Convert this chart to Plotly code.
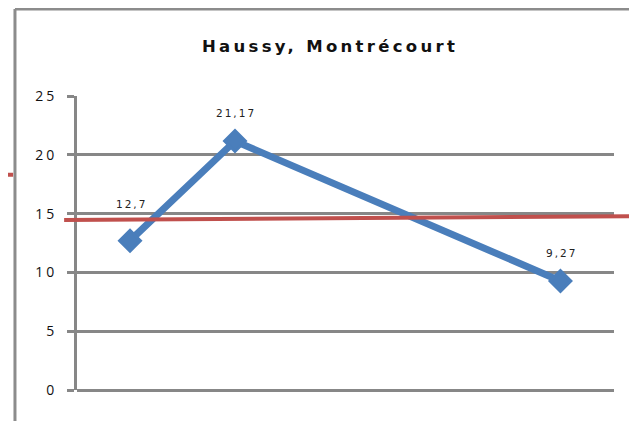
import plotly.graph_objects as go

# ---- data ----
title_text = "Haussy, Montrécourt"
x_pos = [1, 2, 5.1]
values = [12.7, 21.17, 9.27]
labels = [f"{v:g}".replace(".", ",") for v in values]
y_ticks = [0, 5, 10, 15, 20, 25]
ref_level = [14.45, 14.79]      # hand-drawn red reference line (start, end)
stray_level = 18.3              # small red fragment at left edge

BLUE = "#4a7ebb"
RED = "#c0504d"
GRID = "#878787"

fig = go.Figure()
fig.add_trace(go.Scatter(
    x=x_pos, y=values, mode="lines+markers",
    line=dict(color=BLUE, width=7),
    marker=dict(symbol="diamond", size=16, color=BLUE, line=dict(color=BLUE, width=3)),
    hoverinfo="skip", showlegend=False,
))

label_shift = [37, 28, 28]
for xv, yv, t, s in zip(x_pos, values, labels, label_shift):
    fig.add_annotation(x=xv, y=yv, text=f'<span style="letter-spacing:2px">{t}</span>',
                       showarrow=False, yshift=s, xshift=1,
                       font=dict(family="DejaVu Sans", size=10.5, color="#222"))

shapes = [
    # outer chart frame (left + top)
    dict(type="line", xref="paper", yref="paper", x0=-0.1155, x1=-0.1155, y0=-0.3, y1=1.296,
         line=dict(color="#8c8c8c", width=3)),
    dict(type="line", xref="paper", yref="paper", x0=-0.1155, x1=1.3, y0=1.296, y1=1.296,
         line=dict(color="#8c8c8c", width=3)),
    # red reference line
    dict(type="line", xref="paper", yref="y", x0=-0.024, x1=1.06, y0=ref_level[0], y1=ref_level[1],
         line=dict(color=RED, width=4), layer="above"),
    dict(type="line", xref="paper", yref="y", x0=-0.2, x1=-0.119, y0=stray_level, y1=stray_level,
         line=dict(color=RED, width=4), layer="above"),
]

fig.update_layout(
    width=629, height=413,
    margin=dict(l=69, r=23, t=88, b=31),
    paper_bgcolor="white", plot_bgcolor="white",
    shapes=shapes,
    annotations=list(fig.layout.annotations) + [dict(
        text=f'<span style="letter-spacing:3.3px">{title_text}</span>',
        xref="paper", yref="paper", x=0.472, y=1.167, xanchor="center", yanchor="middle",
        showarrow=False, font=dict(family="DejaVu Sans", size=16.5, color="#111", weight="bold"))],
    xaxis=dict(range=[0.495, 5.61], showgrid=False, zeroline=False, showticklabels=False,
               ticks="", showline=False, fixedrange=True),
    yaxis=dict(range=[0, 25], tickvals=y_ticks,
               ticktext=[f'<span style="letter-spacing:3px">{v}</span>' for v in y_ticks],
               showgrid=True, gridcolor=GRID, gridwidth=3,
               zeroline=True, zerolinecolor=GRID, zerolinewidth=3,
               showline=True, linecolor=GRID, linewidth=3,
               ticks="outside", ticklen=7, tickwidth=3, tickcolor=GRID,
               ticklabelstandoff=7,
               tickfont=dict(family="Open Sans", size=14, color="#111"), fixedrange=True),
)

fig.write_html("out.html")
